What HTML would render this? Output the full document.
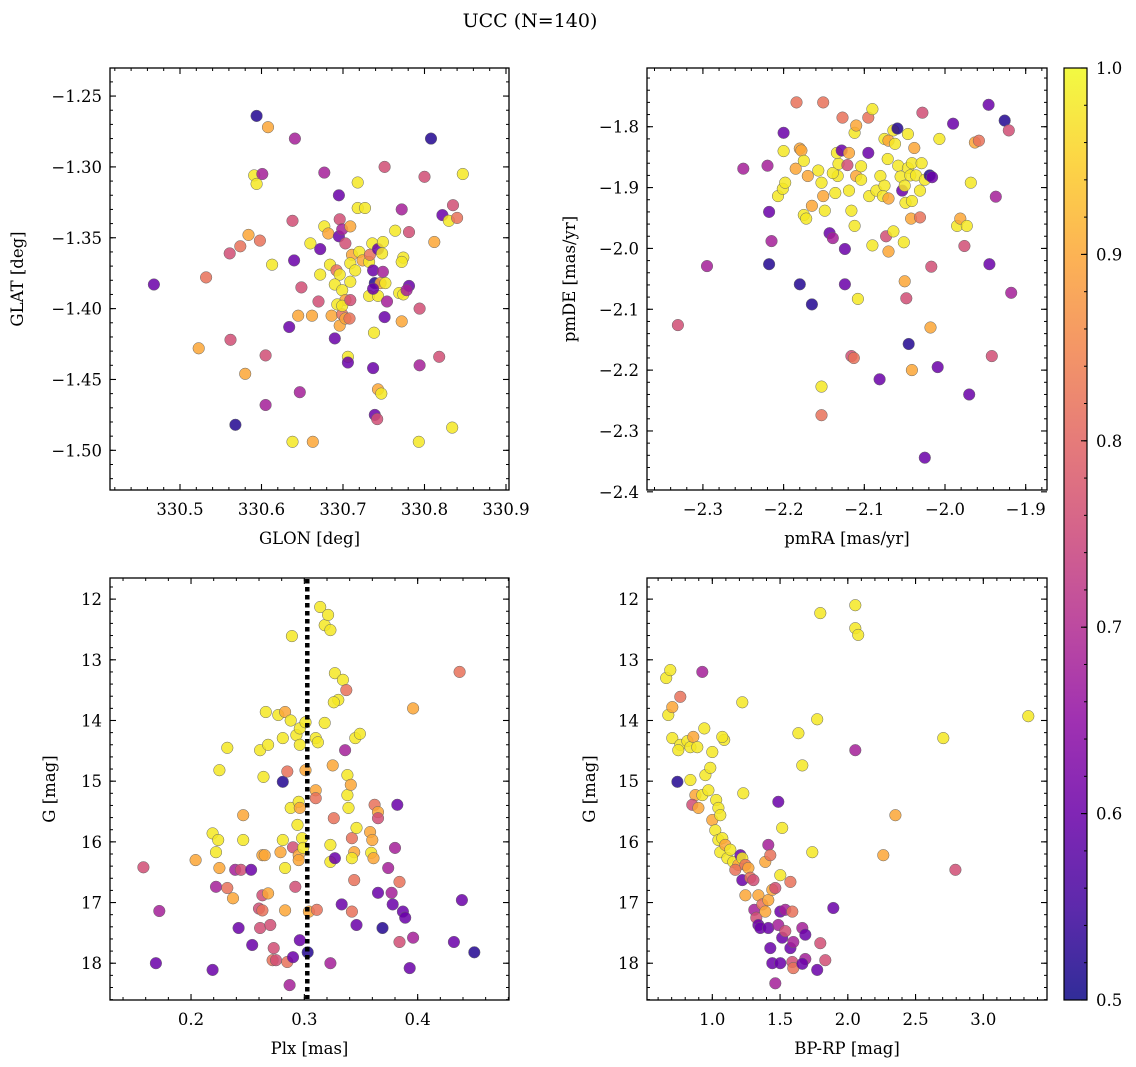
<!DOCTYPE html>
<html><head><meta charset="utf-8"><style>
html,body{margin:0;padding:0;background:#fff;}
svg{display:block;font-family:"DejaVu Serif","Liberation Serif",serif;}
</style></head><body>
<svg id="fig" width="1136" height="1067" xmlns="http://www.w3.org/2000/svg">
<defs><linearGradient id="cbg" x1="0" y1="1" x2="0" y2="0">
<stop offset="0" stop-color="#0d0887"/><stop offset="0.1" stop-color="#41049d"/><stop offset="0.2" stop-color="#6a00a8"/><stop offset="0.3" stop-color="#8f0da4"/><stop offset="0.4" stop-color="#b12a90"/><stop offset="0.5" stop-color="#cc4778"/><stop offset="0.6" stop-color="#e16462"/><stop offset="0.7" stop-color="#f2844b"/><stop offset="0.8" stop-color="#fca636"/><stop offset="0.9" stop-color="#fcce25"/><stop offset="1" stop-color="#f0f921"/>
</linearGradient></defs>
<text x="530" y="27" font-size="19" text-anchor="middle">UCC (N=140)</text>
</svg>
<script>
// ---- data ----
const codeVal = {Y:0.98,O:0.9,S:0.82,P:0.76,M:0.68,U:0.6,D:0.52};
const glon = [330.468,330.532,330.523,330.594,330.608,330.591,330.594,330.601,330.641,330.584,330.598,330.574,330.561,330.613,330.638,330.640,330.562,330.605,330.580,330.634,330.645,330.605,330.568,330.638,330.663,330.647,330.649,330.677,330.660,330.672,330.670,330.662,330.677,330.682,330.695,330.672,330.684,330.692,330.696,330.690,330.699,330.703,330.693,330.686,330.699,330.696,330.690,330.695,330.696,330.699,330.703,330.711,330.709,330.715,330.709,330.699,330.709,330.703,330.708,330.706,330.706,330.709,330.718,330.727,330.718,330.720,330.724,330.732,330.733,330.736,330.743,330.749,330.748,330.737,330.739,330.732,330.743,330.746,330.752,330.737,330.749,330.754,330.738,330.751,330.737,330.743,330.747,330.739,330.742,330.751,330.764,330.772,330.781,330.774,330.772,330.769,330.774,330.781,330.778,330.772,330.794,330.794,330.793,330.800,330.808,330.812,330.818,330.822,330.830,330.835,330.840,330.847,330.834];
const glat = [-1.383,-1.378,-1.428,-1.264,-1.272,-1.306,-1.312,-1.305,-1.280,-1.348,-1.352,-1.356,-1.361,-1.369,-1.338,-1.366,-1.422,-1.433,-1.446,-1.413,-1.405,-1.468,-1.482,-1.494,-1.494,-1.459,-1.385,-1.304,-1.354,-1.376,-1.395,-1.405,-1.342,-1.347,-1.349,-1.358,-1.369,-1.373,-1.376,-1.383,-1.387,-1.394,-1.397,-1.405,-1.404,-1.412,-1.421,-1.320,-1.337,-1.344,-1.354,-1.362,-1.368,-1.373,-1.381,-1.398,-1.394,-1.407,-1.407,-1.434,-1.438,-1.342,-1.329,-1.329,-1.311,-1.360,-1.366,-1.367,-1.362,-1.354,-1.358,-1.353,-1.361,-1.373,-1.382,-1.391,-1.391,-1.382,-1.382,-1.386,-1.374,-1.395,-1.417,-1.406,-1.442,-1.457,-1.460,-1.475,-1.478,-1.300,-1.345,-1.330,-1.346,-1.364,-1.367,-1.389,-1.390,-1.384,-1.387,-1.409,-1.400,-1.440,-1.494,-1.307,-1.280,-1.353,-1.434,-1.334,-1.338,-1.327,-1.336,-1.305,-1.484];
const prob1 = "U S O D O Y Y M M O S S P Y P U P P O U O M D Y O M P M Y Y P O Y O U U Y S Y Y Y O Y O S O U U P M P O Y Y Y Y P O S Y U O Y Y Y Y O Y S Y U Y Y U D Y Y O Y U M M Y U U O Y U P P Y M P Y Y Y Y U M O P M Y P D O P U Y P S Y Y".split(" ");
const pmra = [-2.331,-2.295,-2.250,-2.200,-2.184,-2.218,-2.218,-2.215,-2.220,-2.207,-2.201,-2.198,-2.200,-2.185,-2.180,-2.178,-2.175,-2.175,-2.172,-2.165,-2.170,-2.180,-2.165,-2.157,-2.153,-2.151,-2.153,-2.153,-2.151,-2.149,-2.143,-2.139,-2.136,-2.133,-2.139,-2.132,-2.134,-2.128,-2.121,-2.127,-2.119,-2.112,-2.110,-2.124,-2.124,-2.116,-2.113,-2.119,-2.116,-2.112,-2.110,-2.104,-2.104,-2.095,-2.095,-2.108,-2.094,-2.090,-2.090,-2.085,-2.081,-2.080,-2.075,-2.077,-2.073,-2.064,-2.070,-2.070,-2.071,-2.075,-2.064,-2.070,-2.062,-2.059,-2.058,-2.055,-2.053,-2.050,-2.049,-2.046,-2.043,-2.041,-2.041,-2.046,-2.050,-2.048,-2.051,-2.045,-2.041,-2.042,-2.038,-2.036,-2.031,-2.029,-2.025,-2.031,-2.028,-2.019,-2.016,-2.017,-2.018,-2.007,-2.009,-2.025,-1.990,-1.985,-1.981,-1.976,-1.973,-1.968,-1.970,-1.963,-1.958,-1.946,-1.945,-1.942,-1.937,-1.926,-1.921,-1.918];
const pmde = [-2.126,-2.029,-1.869,-1.810,-1.760,-2.026,-1.940,-1.988,-1.864,-1.914,-1.902,-1.892,-1.840,-1.869,-1.836,-1.839,-1.856,-1.945,-1.951,-1.930,-1.881,-2.059,-2.092,-1.872,-1.892,-1.760,-2.227,-2.274,-1.914,-1.938,-1.975,-1.983,-1.909,-1.881,-1.876,-1.861,-1.843,-1.839,-1.863,-1.785,-1.843,-1.810,-1.798,-2.001,-2.059,-2.177,-2.180,-1.905,-1.938,-1.963,-1.881,-1.887,-1.865,-1.843,-1.785,-2.083,-1.914,-1.771,-1.995,-1.905,-2.215,-1.881,-1.897,-1.914,-1.980,-1.972,-1.918,-2.005,-1.853,-1.820,-1.806,-1.823,-1.828,-1.803,-1.864,-1.882,-1.905,-1.897,-1.925,-1.868,-1.880,-1.860,-1.922,-1.812,-2.054,-2.082,-1.990,-2.157,-2.200,-1.951,-1.835,-1.880,-1.905,-1.860,-1.887,-1.949,-1.777,-1.880,-1.883,-2.030,-2.130,-1.820,-2.195,-2.344,-1.795,-1.963,-1.951,-1.996,-1.963,-1.892,-2.240,-1.826,-1.823,-1.764,-2.026,-2.177,-1.915,-1.790,-1.806,-2.073];
const prob2 = "P M M U S D U M M Y Y Y Y O O O Y Y Y O O D D Y Y S Y S O Y U M Y Y Y Y Y U P S O Y O U U P S Y Y Y O Y Y U S Y Y Y Y Y U Y Y Y P Y O O Y Y Y O Y D Y Y U Y Y Y Y Y Y Y O P Y D O O O Y Y Y Y S P D U P O Y U U U Y O P Y Y U O S U U P M D P M".split(" ");
const plx = [0.158,0.172,0.169,0.219,0.204,0.222,0.219,0.224,0.222,0.225,0.232,0.225,0.232,0.237,0.242,0.239,0.246,0.246,0.244,0.253,0.254,0.260,0.263,0.261,0.263,0.261,0.264,0.263,0.265,0.268,0.266,0.268,0.270,0.273,0.272,0.275,0.277,0.281,0.281,0.279,0.281,0.283,0.283,0.283,0.288,0.288,0.285,0.285,0.287,0.289,0.290,0.290,0.292,0.293,0.294,0.295,0.295,0.295,0.296,0.296,0.296,0.298,0.296,0.299,0.301,0.304,0.303,0.301,0.310,0.312,0.310,0.310,0.311,0.314,0.318,0.321,0.323,0.327,0.330,0.334,0.337,0.326,0.318,0.323,0.325,0.326,0.327,0.323,0.323,0.333,0.336,0.338,0.338,0.341,0.339,0.342,0.344,0.344,0.342,0.346,0.345,0.349,0.342,0.346,0.358,0.360,0.359,0.361,0.362,0.365,0.365,0.365,0.369,0.374,0.377,0.378,0.380,0.382,0.384,0.384,0.387,0.389,0.393,0.396,0.396,0.432,0.437,0.439,0.450];
const gmag3 = [16.42,17.14,18.00,18.11,16.30,16.74,15.86,15.97,16.17,14.82,14.45,16.43,16.76,16.93,17.42,16.46,15.56,15.97,16.46,16.46,17.70,17.10,17.13,17.42,16.88,14.49,14.93,16.22,16.22,14.40,13.86,16.85,17.37,17.75,17.95,17.95,13.91,15.01,15.97,16.17,14.29,13.86,16.43,17.13,14.00,15.44,14.84,17.98,18.36,12.61,16.09,17.90,16.74,14.24,15.72,15.34,16.22,16.30,14.40,14.13,15.44,15.94,17.62,16.10,14.03,17.15,17.82,14.82,14.29,14.36,15.15,15.28,17.12,12.13,12.43,12.26,12.51,13.22,13.66,13.33,13.50,13.70,14.04,16.33,14.74,15.61,16.27,16.05,18.00,17.03,14.49,14.90,15.23,15.06,15.44,15.94,16.17,16.63,17.15,17.37,14.29,14.22,16.27,15.77,15.84,15.97,16.18,16.27,15.39,15.51,15.61,16.84,17.42,16.43,16.84,17.03,16.10,15.39,16.66,17.65,17.15,17.25,18.08,17.58,13.80,17.65,13.20,16.96,17.82];
const prob3 = "P M U U O M Y Y Y Y Y O S O U M O Y P U U P S P P Y Y O O Y Y O P P S P Y D Y O Y O Y O Y Y S S M Y P U P Y Y Y O O Y Y O Y U Y Y O D O Y Y O S S Y Y Y Y Y Y Y S Y Y Y O S U Y M U M Y Y O Y S O S S U Y Y Y Y O O Y O S O P U D M M U M U S P U U U M O U S U D".split(" ");
const plxRef = [0.3026];
const bprp = [0.660,0.690,0.675,0.705,0.764,0.742,0.705,0.764,0.749,0.816,0.838,0.860,0.889,0.875,0.852,0.897,0.838,0.926,0.949,0.971,0.985,0.941,1.000,0.926,1.029,1.045,1.000,1.059,1.022,1.045,1.074,1.059,1.096,1.111,1.133,1.155,1.192,1.170,1.207,1.221,1.221,1.229,1.221,1.088,1.074,1.244,1.266,1.280,1.244,1.303,1.310,1.325,1.340,1.354,1.340,1.369,1.391,1.413,1.443,1.465,1.413,1.391,1.428,1.413,1.428,1.443,1.465,1.502,1.516,1.487,1.502,1.539,1.539,1.502,1.516,1.487,1.590,1.576,1.590,1.598,1.576,1.598,1.664,1.686,1.686,1.664,1.774,1.797,1.834,1.635,1.664,1.738,1.774,1.797,1.893,2.055,2.055,2.077,2.055,2.262,2.351,2.705,2.794,3.332];
const gmag4 = [13.30,13.17,13.91,13.78,13.61,15.01,14.29,14.40,14.49,14.34,14.44,14.27,14.44,15.23,15.39,15.44,14.98,15.23,14.90,15.15,14.78,14.13,14.52,13.20,15.31,15.44,15.64,15.56,15.81,15.97,15.94,16.17,16.05,16.27,16.13,16.33,16.38,16.46,16.22,16.27,16.63,15.20,13.70,14.32,14.27,16.38,16.43,16.59,16.88,16.63,17.12,17.25,17.37,17.42,16.88,17.03,17.15,16.96,16.79,16.76,16.05,16.33,16.22,17.42,17.75,18.00,18.33,18.00,17.58,17.37,17.15,17.12,17.47,16.55,15.77,15.34,17.15,16.66,17.98,18.08,17.75,17.65,17.42,17.53,17.93,18.01,18.11,17.67,17.95,14.21,14.74,16.17,13.98,12.23,17.09,12.10,12.48,12.59,14.49,16.22,15.56,14.29,16.46,13.93];
const prob4 = "Y Y Y O S D Y Y Y Y Y O Y O P O Y Y Y Y Y Y Y M Y Y O Y Y Y Y Y O Y Y Y O S U Y U Y Y Y Y S O S O P M P U U O S O O O P M O S U U U M U U M U M P Y Y U S S P S U M M U M U U P P Y Y Y Y Y U Y Y Y M O O Y P Y".split(" ");
const ticks1x = [330.5,330.6,330.7,330.8,330.9];
const ticks1y = [-1.25,-1.30,-1.35,-1.40,-1.45,-1.50];
const ticks2x = [-2.3,-2.2,-2.1,-2.0,-1.9];
const ticks2y = [-1.8,-1.9,-2.0,-2.1,-2.2,-2.3,-2.4];
const ticks3x = [0.2,0.3,0.4];
const ticksG = [12,13,14,15,16,17,18];
const ticks4x = [1.0,1.5,2.0,2.5,3.0];
const cbTicks = [0.5,0.6,0.7,0.8,0.9,1.0];

// ---- helpers ----
const NS="http://www.w3.org/2000/svg";
const svg=document.getElementById('fig');
function mk(tag,attrs,parent){const e=document.createElementNS(NS,tag);for(const k in attrs)e.setAttribute(k,attrs[k]);(parent||svg).appendChild(e);return e;}
const stops=[[13,8,135],[65,4,157],[106,0,168],[143,13,164],[177,42,144],[204,71,120],[225,100,98],[242,132,75],[252,166,54],[252,206,37],[240,249,33]];
function plasma(v){let t=(v-0.5)/0.5;t=Math.max(0,Math.min(1,t))*10;const i=Math.min(9,Math.floor(t)),f=t-i;const a=stops[i],b=stops[i+1];return `rgb(${Math.round(a[0]+(b[0]-a[0])*f)},${Math.round(a[1]+(b[1]-a[1])*f)},${Math.round(a[2]+(b[2]-a[2])*f)})`;}
function fmt(v,d){return (v<0?'\u2212':'')+Math.abs(v).toFixed(d);}
const TF=16.5, LF=16.5;

function panel(name,box,xd,yd,xs,ys,cs,xt,yt,xdec,ydec,xminor,yminor,xlab,ylab,ylabX){
  const [L,T,R,B]=box;
  const g=mk('g',{});
  
  
  const sx=v=>L+(v-xd[0])/(xd[1]-xd[0])*(R-L);
  const sy=v=>T+(v-yd[0])/(yd[1]-yd[0])*(B-T);
  const pts=mk('g',{},g);
  
  
  const n=Math.min(xs.length,ys.length,cs.length);
  for(let i=0;i<n;i++){
    const c=mk('circle',{cx:sx(xs[i]).toFixed(1),cy:sy(ys[i]).toFixed(1),r:5.8,fill:plasma(codeVal[cs[i]]),'fill-opacity':0.85,stroke:'#666','stroke-width':0.5},pts);
    
    
  }
  const fr=mk('rect',{x:L,y:T,width:R-L,height:B-T,fill:'none',stroke:'#000','stroke-width':1.3},g);
  
  
  const xs0=Math.min(xd[0],xd[1]),xs1=Math.max(xd[0],xd[1]);
  for(let k=Math.ceil(xs0/xminor-1e-6);k*xminor<=xs1+1e-9;k++){const v=k*xminor;const x=sx(v);
    mk('line',{x1:x,x2:x,y1:B,y2:B-3,stroke:'#000','stroke-width':1},g);mk('line',{x1:x,x2:x,y1:T,y2:T+3,stroke:'#000','stroke-width':1},g);}
  xt.forEach(v=>{const x=sx(v);
    mk('line',{x1:x,x2:x,y1:B,y2:B-6,stroke:'#000','stroke-width':1.1},g);mk('line',{x1:x,x2:x,y1:T,y2:T+6,stroke:'#000','stroke-width':1.1},g);
    const t=mk('text',{x:x,y:B+25,'font-size':TF,'text-anchor':'middle'},g);t.textContent=fmt(v,xdec);
    
    });
  const ys0=Math.min(yd[0],yd[1]),ys1=Math.max(yd[0],yd[1]);
  for(let k=Math.ceil(ys0/yminor-1e-6);k*yminor<=ys1+1e-9;k++){const v=k*yminor;const y=sy(v);
    mk('line',{x1:L,x2:L+3,y1:y,y2:y,stroke:'#000','stroke-width':1},g);mk('line',{x1:R,x2:R-3,y1:y,y2:y,stroke:'#000','stroke-width':1},g);}
  yt.forEach(v=>{const y=sy(v);
    mk('line',{x1:L,x2:L+6,y1:y,y2:y,stroke:'#000','stroke-width':1.1},g);mk('line',{x1:R,x2:R-6,y1:y,y2:y,stroke:'#000','stroke-width':1.1},g);
    const t=mk('text',{x:L-8,y:y+6,'font-size':TF,'text-anchor':'end'},g);t.textContent=fmt(v,ydec);
    
    });
  const xl=mk('text',{x:(L+R)/2,y:B+54,'font-size':LF,'text-anchor':'middle'},g);xl.textContent=xlab;
  
  
  const yl=mk('text',{x:ylabX,y:(T+B)/2,'font-size':LF,'text-anchor':'middle',transform:`rotate(-90 ${ylabX} ${(T+B)/2})`},g);yl.textContent=ylab;
  
  
  return {sx,sy,g};
}

panel('glon-glat-panel',[110,68,509,490],[330.4141,330.9037],[-1.2302,-1.528],glon,glat,prob1,ticks1x,ticks1y,1,2,0.02,0.01,'GLON [deg]','GLAT [deg]',23);
panel('pm-panel',[647,68,1047,490],[-2.3693,-1.8736],[-1.7035,-2.397],pmra,pmde,prob2,ticks2x,ticks2y,1,1,0.02,0.02,'pmRA [mas/yr]','pmDE [mas/yr]',575);
const p3=panel('plx-g-panel',[110,578,509,1000],[0.1285,0.4806],[11.652,18.606],plx,gmag3,prob3,ticks3x,ticksG,1,0,0.02,0.2,'Plx [mas]','G [mag]',55);
panel('cmd-panel',[647,578,1047,1000],[0.518,3.470],[11.652,18.606],bprp,gmag4,prob4,ticks4x,ticksG,1,0,0.1,0.2,'BP-RP [mag]','G [mag]',595);

plxRef.forEach(v=>{const x=p3.sx(v);
  const ln=mk('line',{x1:x,x2:x,y1:579,y2:999,stroke:'#000','stroke-width':4.5,'stroke-dasharray':'4.5 3.5'});
  
  });

const cb=mk('g',{});


mk('rect',{x:1064,y:68,width:23,height:932,fill:'url(#cbg)','fill-opacity':0.85},cb);
mk('rect',{x:1064,y:68,width:23,height:932,fill:'none',stroke:'#000','stroke-width':1.2},cb);
const cy=v=>1000-(v-0.5)/0.5*932;
for(let k=50;k<=100;k+=2){const y=cy(k/100);mk('line',{x1:1087,x2:1084,y1:y,y2:y,stroke:'#000','stroke-width':1},cb);}
cbTicks.forEach(v=>{const y=cy(v);
  mk('line',{x1:1087,x2:1081,y1:y,y2:y,stroke:'#000','stroke-width':1.1},cb);
  const t=mk('text',{x:1096,y:y+6,'font-size':TF},cb);t.textContent=v.toFixed(1);
  
  });
</script>
</body></html>
